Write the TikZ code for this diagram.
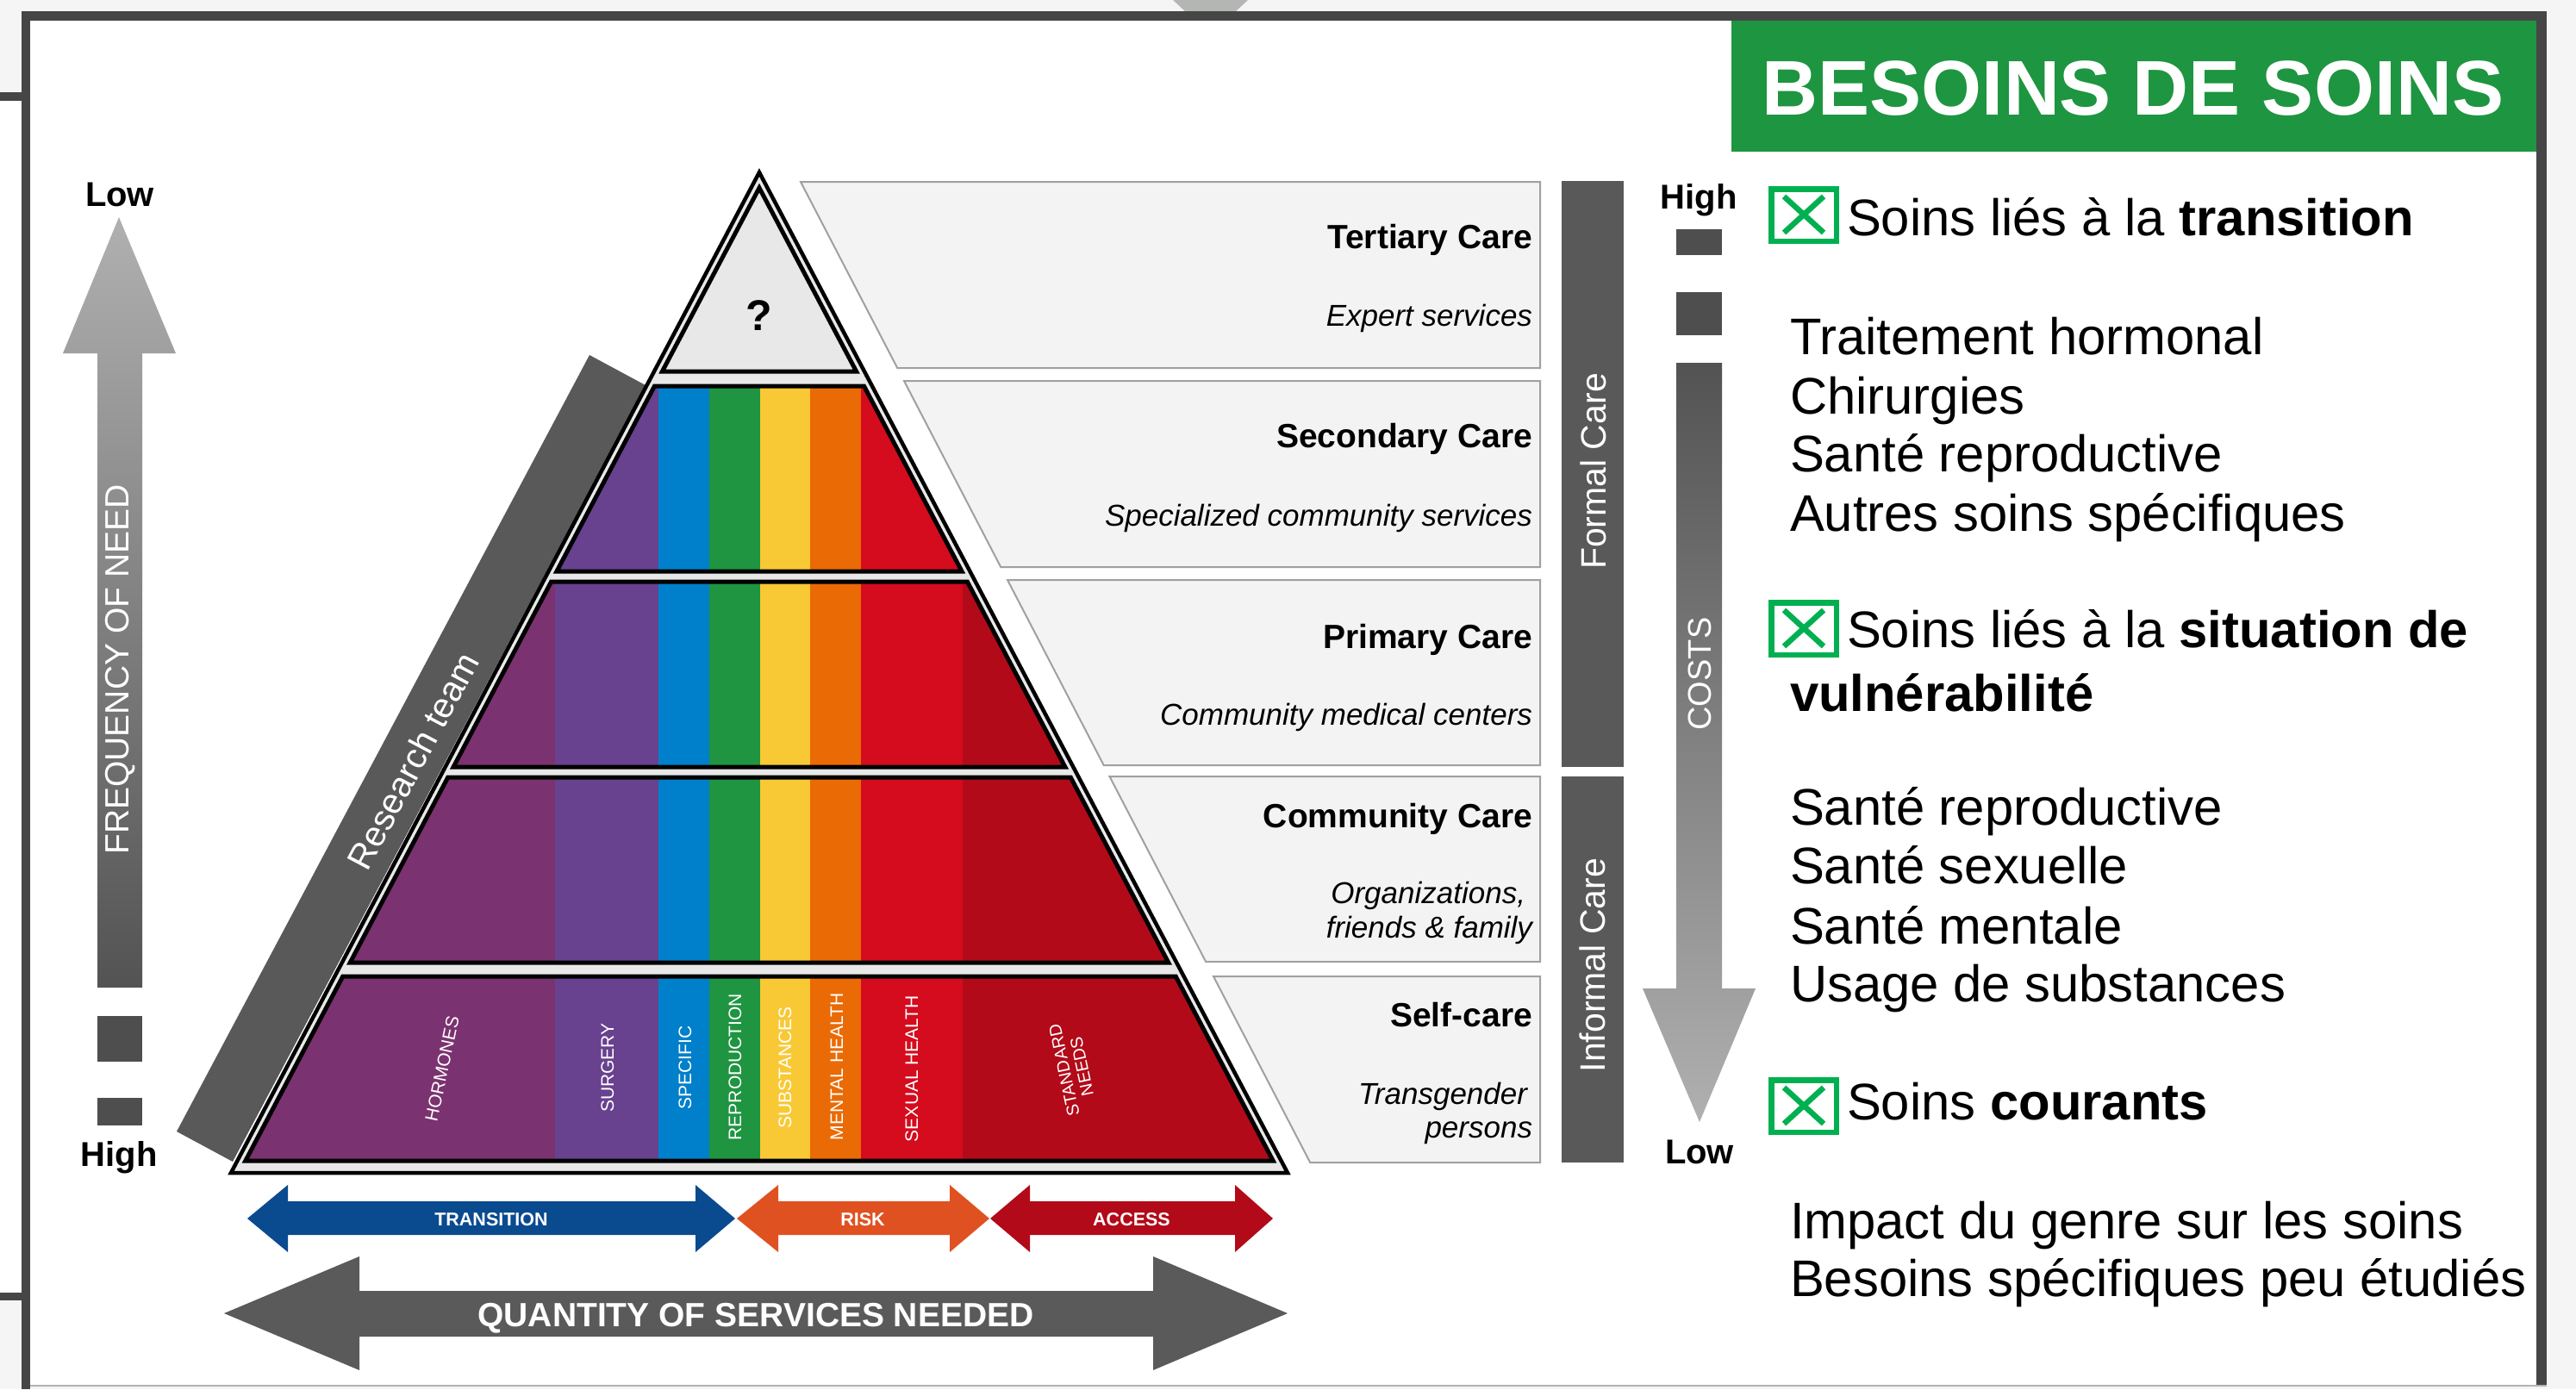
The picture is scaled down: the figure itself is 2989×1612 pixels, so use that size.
\documentclass[tikz,border=0pt]{standalone}
\usepackage{fontspec}
\setmainfont{Liberation Sans}
\definecolor{bgout}{HTML}{F5F5F5}
\definecolor{framec}{HTML}{464646}
\definecolor{topshape}{HTML}{B4B6B4}
\definecolor{hdrgreen}{HTML}{1E9540}
\definecolor{cbgreen}{HTML}{00B050}
\definecolor{cplum}{HTML}{7B3270}
\definecolor{cviolet}{HTML}{68418F}
\definecolor{cblue}{HTML}{007FCB}
\definecolor{cgreen}{HTML}{1F9441}
\definecolor{cyellow}{HTML}{F8C935}
\definecolor{corange}{HTML}{EA6A05}
\definecolor{cred}{HTML}{D50B1E}
\definecolor{cdred}{HTML}{B30A19}
\definecolor{bandgray}{HTML}{595959}
\definecolor{pyrfill}{HTML}{E8E8E8}
\definecolor{panelfill}{HTML}{F3F3F3}
\definecolor{panelline}{HTML}{A0A0A0}
\definecolor{trblue}{HTML}{0A4A8F}
\definecolor{riskor}{HTML}{E05121}
\definecolor{accred}{HTML}{B20A19}
\definecolor{qgray}{HTML}{5A5A5A}
\definecolor{arrlight}{HTML}{B0B0B0}
\definecolor{arrdark}{HTML}{535353}
\definecolor{sqgray}{HTML}{4E4E4E}
\tikzset{
  txt/.style={inner sep=0pt, outer sep=0pt},
  rcol/.style={txt, anchor=base west, font=\fontsize{59.8}{70}\selectfont},
  ptitle/.style={txt, anchor=base east, font=\fontsize{39}{46}\selectfont\bfseries},
  psub/.style={txt, anchor=base east, font=\fontsize{35}{42}\selectfont\itshape},
  lowhigh/.style={txt, anchor=base, font=\fontsize{40}{48}\selectfont\bfseries},
  vtext/.style={txt, rotate=90, text=white},
  stripelbl/.style={txt, rotate=90, text=white, font=\fontsize{21}{22}\selectfont},
  arrtxt/.style={txt, anchor=base, text=white, font=\fontsize{21.5}{24}\selectfont\bfseries},
  panel/.style={fill=panelfill, draw=panelline, line width=2pt},
  cbox/.style={draw=cbgreen, line width=6.5pt},
}
\begin{document}
\begin{tikzpicture}[x=1pt,y=-1pt]
\useasboundingbox (0,0) rectangle (2989,1612);
% ---------- background and frame
\fill[bgout] (0,0) rectangle (2989,1612);
\fill[white] (0,117) rectangle (25,1500);
\fill[framec] (0,107) rectangle (25,117);
\fill[framec] (0,1500) rectangle (25,1509);
\fill[topshape] (1361,0) -- (1448,0) -- (1434,13) -- (1375,13) -- cycle;
\fill[framec] (25,13) rectangle (2955,1607);
\fill[framec] (25,1607) rectangle (35,1612);
\fill[white] (35,24) rectangle (2943,1607);
\draw[gray!60, line width=1.5pt] (35,1608) -- (2955,1608);
% ---------- header
\fill[hdrgreen] (2009,24) rectangle (2943,176);
\node[txt, anchor=base, text=white, font=\fontsize{90}{100}\selectfont\bfseries] (title) at (2475,133) {BESOINS DE SOINS};
% ---------- frequency arrow
\shade[top color=arrlight, bottom color=arrdark] (138,252) -- (204,410) -- (165,410) -- (165,1146) -- (113,1146) -- (113,410) -- (73,410) -- cycle;
\fill[sqgray] (113,1179) rectangle (165,1232);
\fill[sqgray] (113,1274) rectangle (165,1306);
\node[lowhigh] (flow) at (139,239) {Low};
\node[lowhigh] (fhigh) at (138,1353) {High};
\node[vtext, font=\fontsize{39}{44}\selectfont] (freq) at (140,777) {FREQUENCY OF NEED};
% ---------- research team band
\fill[bandgray] (684,412) -- (749,447) -- (270,1348) -- (205,1313) -- cycle;
\node[txt, rotate=62, text=white, font=\fontsize{41}{46}\selectfont] (research) at (479,883) {Research team};
% ---------- pyramid
\filldraw[fill=pyrfill, draw=black, line width=4.5pt, line join=miter] (881,200) -- (1494,1361) -- (268,1361) -- cycle;
\filldraw[fill=pyrfill, draw=black, line width=5pt, line join=miter] (881,218) -- (993.6,431) -- (768.4,431) -- cycle;
\node[txt, font=\fontsize{50}{56}\selectfont\bfseries] (qmark) at (881,366) {?};
\foreach \ya/\yb in {448/663,675/890,902/1117,1133/1347}{
  \pgfmathsetmacro\la{881-0.528*(\ya-197)+11}
  \pgfmathsetmacro\ra{881+0.528*(\ya-197)-11}
  \pgfmathsetmacro\lb{881-0.528*(\yb-197)+11}
  \pgfmathsetmacro\rb{881+0.528*(\yb-197)-11}
  \begin{scope}
    \clip (\la,\ya) -- (\ra,\ya) -- (\rb,\yb) -- (\lb,\yb) -- cycle;
    \fill[cplum] (250,\ya) rectangle (644.5,\yb);
    \fill[cviolet] (644,\ya) rectangle (764.5,\yb);
    \fill[cblue] (764,\ya) rectangle (823.5,\yb);
    \fill[cgreen] (823,\ya) rectangle (882.5,\yb);
    \fill[cyellow] (882,\ya) rectangle (940.5,\yb);
    \fill[corange] (940,\ya) rectangle (999.5,\yb);
    \fill[cred] (999,\ya) rectangle (1117.5,\yb);
    \fill[cdred] (1117,\ya) rectangle (1500,\yb);
  \end{scope}
  \draw[line width=5pt, line join=miter] (\la,\ya) -- (\ra,\ya) -- (\rb,\yb) -- (\lb,\yb) -- cycle;
}
\node[stripelbl, rotate=-12] (hormones) at (513,1240) {HORMONES};
\node[stripelbl] (surgery) at (705,1239) {SURGERY};
\node[stripelbl] (specific) at (795,1239) {SPECIFIC};
\node[stripelbl] (repro) at (853,1238) {REPRODUCTION};
\node[stripelbl] (subst) at (911,1239) {SUBSTANCES};
\node[stripelbl] (mental) at (971,1238) {MENTAL HEALTH};
\node[stripelbl] (sexual) at (1058,1240) {SEXUAL HEALTH};
\node[stripelbl, rotate=12, align=center, font=\fontsize{20}{21}\selectfont] (standard) at (1245,1240) {STANDARD\\NEEDS};
% ---------- bottom arrows
\fill[trblue] (287,1414) -- (334,1375) -- (334,1394) -- (807,1394) -- (807,1375) -- (853,1414) -- (807,1453) -- (807,1433) -- (334,1433) -- (334,1453) -- cycle;
\fill[riskor] (855,1414) -- (903,1375) -- (903,1394) -- (1102,1394) -- (1102,1375) -- (1148,1414) -- (1102,1453) -- (1102,1433) -- (903,1433) -- (903,1453) -- cycle;
\fill[accred] (1149,1414) -- (1195,1375) -- (1195,1394) -- (1433,1394) -- (1433,1375) -- (1477,1414) -- (1433,1453) -- (1433,1433) -- (1195,1433) -- (1195,1453) -- cycle;
\node[arrtxt] (transition) at (570,1422) {TRANSITION};
\node[arrtxt] (risk) at (1001,1422) {RISK};
\node[arrtxt] (access) at (1313,1422) {ACCESS};
\fill[qgray] (260,1524) -- (417,1458) -- (417,1498) -- (1338,1498) -- (1338,1458) -- (1494,1524) -- (1338,1590) -- (1338,1551) -- (417,1551) -- (417,1590) -- cycle;
\node[txt, anchor=base, text=white, font=\fontsize{39}{44}\selectfont\bfseries] (quantity) at (877,1539) {QUANTITY OF SERVICES NEEDED};
% ---------- care level panels
\foreach \t/\b in {211/427,442/658,673/888,901/1116,1133/1349}{
  \pgfmathsetmacro\lt{929+0.5195*(\t-211)}
  \pgfmathsetmacro\lbb{929+0.5195*(\b-211)}
  \draw[panel] (\lt,\t) -- (1787,\t) -- (1787,\b) -- (\lbb,\b) -- cycle;
}
\node[ptitle] (tert) at (1778,288) {Tertiary Care};
\node[psub] (terts) at (1778,378) {Expert services};
\node[ptitle] (sec) at (1778,519) {Secondary Care};
\node[psub] (secs) at (1778,610) {Specialized community services};
\node[ptitle] (prim) at (1778,752) {Primary Care};
\node[psub] (prims) at (1778,841) {Community medical centers};
\node[ptitle] (comm) at (1778,960) {Community Care};
\node[psub] (comms1) at (1770,1048) {Organizations,};
\node[psub] (comms2) at (1778,1088) {friends \& family};
\node[ptitle] (self) at (1778,1191) {Self-care};
\node[psub] (selfs1) at (1772,1281) {Transgender};
\node[psub] (selfs2) at (1778,1320) {persons};
% ---------- formal / informal bars
\fill[bandgray] (1812,210) rectangle (1884,890);
\fill[bandgray] (1812,901) rectangle (1884,1349);
\node[vtext, font=\fontsize{41}{46}\selectfont] (formal) at (1849,547) {Formal Care};
\node[vtext, font=\fontsize{41}{46}\selectfont] (informal) at (1848,1120) {Informal Care};
% ---------- costs arrow
\fill[sqgray] (1945,266) rectangle (1998,296);
\fill[sqgray] (1945,339) rectangle (1998,389);
\shade[top color=arrdark, bottom color=arrlight] (1945,421) -- (1998,421) -- (1998,1147) -- (2037,1147) -- (1972,1302) -- (1906,1147) -- (1945,1147) -- cycle;
\node[lowhigh] (chigh) at (1971,242) {High};
\node[lowhigh] (clow) at (1972,1350) {Low};
\node[vtext, font=\fontsize{38}{44}\selectfont] (costs) at (1972,782) {COSTS};
% ---------- right column
\foreach \yy in {216,696,1250}{
  \draw[cbox] (2055.25,\yy+3.25) rectangle (2130.75,\yy+63.75);
  \draw[cbgreen, line width=6.5pt] (2070,\yy+12) -- (2116,\yy+54) (2116,\yy+12) -- (2070,\yy+54);
}
\node[rcol] (l1) at (2143,273) {Soins liés à la \textbf{transition}};
\node[rcol] (l2) at (2077,411) {Traitement hormonal};
\node[rcol] (l3) at (2077,480) {Chirurgies};
\node[rcol] (l4) at (2077,547) {Santé reproductive};
\node[rcol] (l5) at (2077,616) {Autres soins spécifiques};
\node[rcol] (l6) at (2143,751) {Soins liés à la \textbf{situation de}};
\node[rcol] (l7) at (2077,825) {\textbf{vulnérabilité}};
\node[rcol] (l8) at (2077,957) {Santé reproductive};
\node[rcol] (l9) at (2077,1025) {Santé sexuelle};
\node[rcol] (l10) at (2077,1095) {Santé mentale};
\node[rcol] (l11) at (2077,1162) {Usage de substances};
\node[rcol] (l12) at (2143,1299) {Soins \textbf{courants}};
\node[rcol] (l13) at (2077,1437) {Impact du genre sur les soins};
\node[rcol] (l14) at (2077,1504) {Besoins spécifiques peu étudiés};
\end{tikzpicture}
\end{document}
